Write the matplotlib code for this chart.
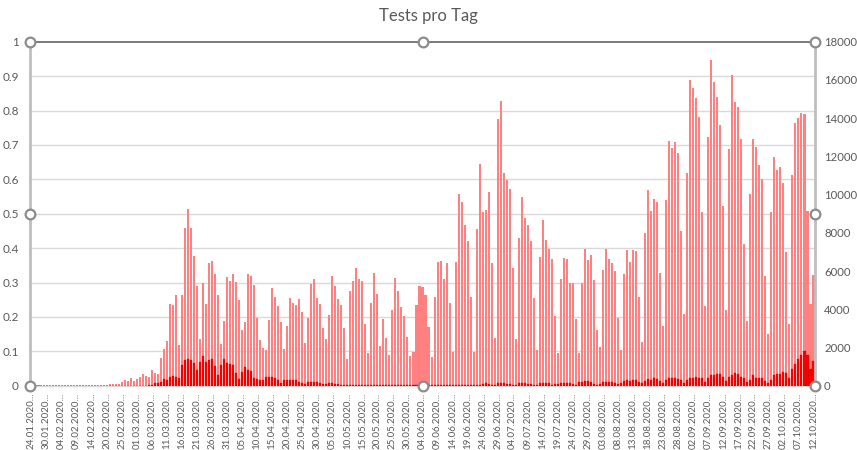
import matplotlib
matplotlib.use("Agg")
import matplotlib.pyplot as plt
import numpy as np
import pandas as pd

plt.rcParams['font.family'] = ['Lato', 'DejaVu Sans']

# ---- data ----
all_days = pd.date_range('2020-01-24', '2020-10-12', freq='D')
missing_days = pd.to_datetime(['2020-01-25', '2020-02-15'])
dates = [d.strftime('%d.%m.%Y') for d in all_days if d not in missing_days]

tests = [
    50, 60, 60, 50, 60, 60, 60, 50, 60, 60,
    60, 60, 60, 60, 60, 60, 60, 60, 60, 60,
    60, 60, 60, 60, 60, 60, 70, 70, 70, 70,
    180, 324, 270, 414, 270, 360, 468, 630, 522, 468,
    828, 684, 612, 1458, 1944, 2358, 4284, 4230, 4770, 2142,
    4770, 8262, 9270, 8262, 6804, 5238, 2466, 5400, 4284, 6444,
    6534, 5868, 4770, 2196, 3402, 5706, 5490, 5868, 5436, 4500,
    2934, 3348, 5868, 5760, 5292, 3564, 2412, 1980, 1890, 3456,
    5130, 4662, 4194, 3348, 1944, 3132, 4608, 4338, 4230, 4554,
    3870, 2250, 3564, 5346, 5598, 4608, 4284, 3042, 2466, 3708,
    5760, 5238, 4554, 4230, 3042, 1404, 4968, 5490, 6174, 5598,
    5490, 3240, 1728, 4338, 5904, 4806, 2088, 3510, 2520, 1620,
    3978, 5652, 4968, 4140, 3672, 2556, 1566, 1782, 4230, 5227,
    5174, 4771, 3087, 1491, 4648, 6455, 6542, 5560, 6402, 4350,
    1771, 6455, 10033, 9594, 8402, 7560, 4648, 1771, 8174, 11612,
    9086, 9191, 10138, 6402, 2508, 13980, 14874, 11138, 10770, 10296,
    6139, 2456, 7718, 9875, 8770, 8402, 7560, 4613, 1877, 6718,
    8665, 7612, 7139, 6613, 3666, 1701, 5560, 6665, 6613, 5350,
    5350, 3508, 1719, 5350, 7139, 6560, 6823, 5508, 2929, 2035,
    6034, 7139, 6613, 6402, 5981, 3561, 1877, 5823, 7086, 6455,
    7086, 7034, 4666, 2298, 7981, 10243, 9138, 9770, 9612, 5876,
    3140, 9717, 12822, 12453, 12769, 12190, 8080, 3732, 11109, 15975,
    15591, 15033, 14039, 9069, 4151, 12993, 17021, 15870, 15086, 13621,
    9383, 3941, 12365, 16237, 14824, 14562, 12888, 7395, 3366, 10011,
    12888, 12470, 11528, 10795, 5720, 2686, 9069, 11946, 11266, 11423,
    10586, 6976, 3209, 11005, 13725, 13987, 14248, 14196, 9121, 4255, 5773,
]

positives = [
    0, 0, 0, 0, 0, 0, 0, 0, 0, 0,
    0, 0, 0, 0, 0, 0, 0, 0, 0, 0,
    0, 0, 0, 0, 0, 0, 0, 0, 0, 0,
    0, 0, 0, 0, 0, 0, 5, 10, 10, 20,
    40, 126, 126, 216, 342, 324, 432, 486, 450, 378,
    1062, 1332, 1422, 1332, 1170, 810, 1260, 1530, 1224, 1332,
    1386, 1008, 576, 1098, 1404, 1170, 1116, 1062, 684, 360,
    738, 990, 810, 756, 414, 360, 288, 324, 468, 468,
    468, 396, 288, 126, 306, 306, 306, 306, 288, 216,
    126, 72, 216, 216, 216, 216, 162, 90, 72, 126,
    162, 108, 72, 54, 60, 40, 50, 60, 60, 50,
    50, 30, 20, 40, 50, 50, 30, 30, 25, 20,
    40, 45, 40, 35, 30, 20, 20, 30, 40, 40,
    30, 30, 20, 20, 30, 40, 50, 40, 40, 30,
    20, 40, 50, 50, 40, 40, 30, 20, 40, 50,
    70, 120, 110, 60, 40, 130, 160, 120, 100, 90,
    60, 40, 130, 140, 120, 110, 90, 60, 40, 140,
    160, 150, 123, 53, 88, 88, 140, 140, 140, 140,
    88, 53, 193, 193, 246, 246, 193, 88, 53, 88,
    193, 193, 193, 193, 140, 88, 140, 246, 298, 246,
    298, 298, 193, 140, 246, 351, 298, 403, 351, 246,
    140, 298, 403, 403, 403, 351, 296, 157, 296, 419,
    419, 471, 419, 419, 209, 384, 541, 541, 593, 593,
    471, 262, 471, 541, 645, 593, 471, 384, 209, 314,
    541, 419, 384, 419, 262, 157, 314, 541, 593, 593,
    698, 645, 384, 855, 1151, 1395, 1587, 1796, 1587, 855, 1273,
]

left_ticks = [0, 0.1, 0.2, 0.3, 0.4, 0.5, 0.6, 0.7, 0.8, 0.9, 1]
left_labels = ['0', '0.1', '0.2', '0.3', '0.4', '0.5', '0.6', '0.7', '0.8', '0.9', '1']
right_ticks = [0, 2000, 4000, 6000, 8000, 10000, 12000, 14000, 16000, 18000]
title = 'Tests pro Tag'

# ---- figure ----
fig = plt.figure(figsize=(8.57, 4.5), dpi=100)
ax = fig.add_axes([0.0350, 0.1429, 0.9160, 0.7644])
ax2 = ax.twinx()

n = len(tests)
x = np.arange(n)

text_col = '#595959'

ax.set_ylim(0, 1)
ax.set_yticks(left_ticks)
ax.set_yticklabels(left_labels)
ax.set_xlim(-0.5, n - 0.5)
for t in left_ticks[1:-1]:
    ax.axhline(t, color='#d9d9d9', lw=1.0, zorder=0)
ax.tick_params(axis='y', length=0, pad=8, labelsize=8.5, labelcolor=text_col)

ax2.set_ylim(0, 18000)
ax2.set_yticks(right_ticks)
ax2.tick_params(axis='y', length=0, pad=6.5, labelsize=8.2, labelcolor=text_col)

ax2.bar(x, tests, width=0.68, color='#ff8080', edgecolor='none', zorder=2)
ax2.bar(x, positives, width=0.68, color='#ff0000', edgecolor='#b00000', linewidth=0.2, zorder=3)

tick_idx = list(range(0, n, 5))
ax.set_xticks(tick_idx)
ax.set_xticklabels([dates[i] + '...' for i in tick_idx], rotation=90)
ax.tick_params(axis='x', length=0, pad=5, labelsize=7, labelcolor=text_col)

for a in (ax, ax2):
    for s in a.spines.values():
        s.set_visible(False)

# selection frame of the plot area
ax2.plot([0, 1], [1, 1], transform=ax2.transAxes, color='#707070', lw=1.3, clip_on=False, zorder=5)
ax2.plot([0, 0], [0, 1], transform=ax2.transAxes, color='#bfbfbf', lw=2.0, clip_on=False, zorder=5)
ax2.plot([1, 1], [0, 1], transform=ax2.transAxes, color='#bfbfbf', lw=2.0, clip_on=False, zorder=5)
ax2.plot([0, 1], [0, 0], transform=ax2.transAxes, color='#d9d9d9', lw=1.0, clip_on=False, zorder=1)
hx = [0, 0.5, 1, 0, 1, 0, 0.5, 1]
hy = [1, 1, 1, 0.5, 0.5, 0, 0, 0]
ax2.plot(hx, hy, 'o', transform=ax2.transAxes, ms=7, mfc='white', mec='#8c8c8c', mew=1.6,
         clip_on=False, zorder=10, linestyle='none')

fig.text(0.5, 0.965, title, ha='center', va='center', fontsize=12, color=text_col)

fig.savefig('out.png', dpi=100)
